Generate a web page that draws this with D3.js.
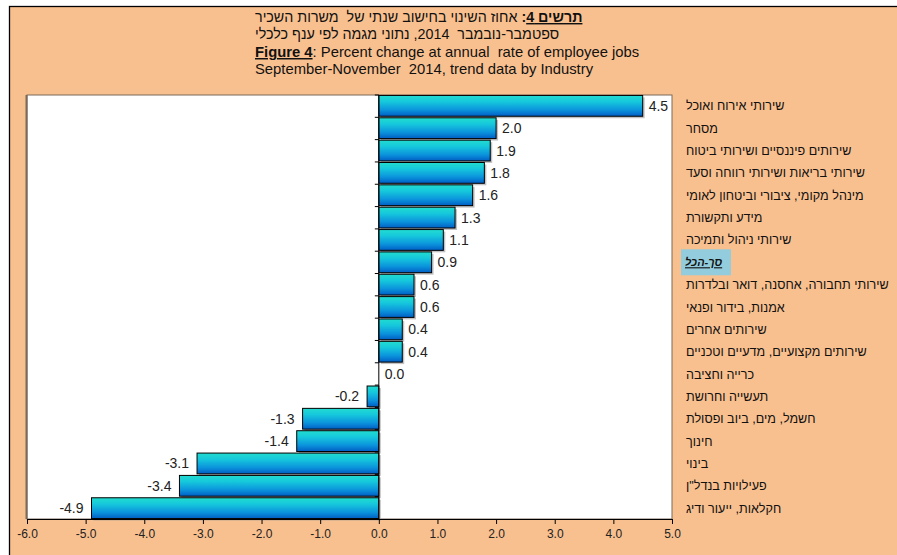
<!DOCTYPE html>
<html><head><meta charset="utf-8">
<script src="https://cdn.jsdelivr.net/npm/d3@7"></script>
<style>
html,body{margin:0;padding:0;background:#fff;}
svg{display:block;font-family:"Liberation Sans",Arial,sans-serif;}
text{white-space:pre;}
</style></head>
<body>
<svg id="chart" width="897" height="555"></svg>
<script>
const categories = [
  "שירותי אירוח ואוכל",
  "מסחר",
  "שירותים פיננסיים ושירותי ביטוח",
  "שירותי בריאות ושירותי רווחה וסעד",
  "מינהל מקומי, ציבורי וביטחון לאומי",
  "מידע ותקשורת",
  "שירותי ניהול ותמיכה",
  "סך-הכל",
  "שירותי תחבורה, אחסנה, דואר ובלדרות",
  "אמנות, בידור ופנאי",
  "שירותים אחרים",
  "שירותים מקצועיים, מדעיים וטכניים",
  "כרייה וחציבה",
  "תעשייה וחרושת",
  "חשמל, מים, ביוב ופסולת",
  "חינוך",
  "בינוי",
  "פעילויות בנדל\"ן",
  "חקלאות, ייעור ודיג"
];
const values = [4.5, 2.0, 1.9, 1.8, 1.6, 1.3, 1.1, 0.9, 0.6, 0.6, 0.4, 0.4, 0.0, -0.2, -1.3, -1.4, -3.1, -3.4, -4.9];
const xTicks = [-6, -5, -4, -3, -2, -1, 0, 1, 2, 3, 4, 5];
const totalLabel = "סך-הכל";
const titleHe1Bold = "תרשים 4";
const titleHe1Rest = " אחוז השינוי בחישוב שנתי של  משרות השכיר";
const titleHe2 = "ספטמבר-נובמבר  2014, נתוני מגמה לפי ענף כלכלי";
const titleEn1Bold = "Figure 4";
const titleEn1Rest = ": Percent change at annual  rate of employee jobs";
const titleEn2 = "September-November  2014, trend data by Industry";

(function(){
const svg = d3.select("#chart");
const W = 897, H = 555;
const fmt = v => v.toFixed(1);

svg.append("rect").attr("x",0).attr("y",0).attr("width",W).attr("height",H).attr("fill","#fff");
svg.append("rect").attr("x",9.5).attr("y",6.5).attr("width",W).attr("height",H).attr("fill","#F9C08F").attr("stroke","#000").attr("stroke-width",1.3);

const tx = 255;
const t1 = svg.append("text").attr("x",tx).attr("y",22).attr("font-size",14.3).attr("fill","#111");
t1.append("tspan").attr("font-weight","bold").attr("text-decoration","underline").text(titleHe1Bold);
t1.append("tspan").attr("font-weight","bold").text(":");
t1.append("tspan").text(titleHe1Rest);
svg.append("text").attr("x",tx).attr("y",39).attr("font-size",14.3).attr("fill","#111").text(titleHe2);
const t3 = svg.append("text").attr("x",tx).attr("y",57).attr("font-size",14.8).attr("fill","#111");
t3.append("tspan").attr("font-weight","bold").attr("text-decoration","underline").text(titleEn1Bold);
t3.append("tspan").text(titleEn1Rest);
svg.append("text").attr("x",tx).attr("y",74).attr("font-size",14.8).attr("fill","#111").text(titleEn2);

const pLeft = 27, pRight = 672, pTop = 95, pBottom = 519;
const x = d3.scaleLinear().domain([-6,5]).range([pLeft,pRight]);
const y = d3.scaleBand().domain(categories).range([pTop,pBottom]).paddingInner(0.07).paddingOuter(0.02);

svg.append("rect").attr("x",pLeft).attr("y",pTop).attr("width",pRight-pLeft).attr("height",pBottom-pTop)
  .attr("fill","#fff").attr("stroke","#7a6a5a").attr("stroke-width",1);
svg.append("line").attr("x1",pLeft-0.5).attr("x2",pLeft-0.5).attr("y1",pTop).attr("y2",pBottom).attr("stroke","#7a6a5a").attr("stroke-width",2);

const defs = svg.append("defs");
const g = defs.append("linearGradient").attr("id","barGrad").attr("x1",0).attr("y1",0).attr("x2",0).attr("y2",1);
g.append("stop").attr("offset","0%").attr("stop-color","#22dccf");
g.append("stop").attr("offset","30%").attr("stop-color","#16c8dc");
g.append("stop").attr("offset","70%").attr("stop-color","#0b93dc");
g.append("stop").attr("offset","100%").attr("stop-color","#005ec4");

const data = categories.map((c,i)=>({c, v: values[i]}));

svg.append("g").selectAll("rect").data(data).join("rect")
  .attr("x", d => Math.min(x(0), x(d.v)) + 2)
  .attr("y", d => y(d.c) + 2)
  .attr("width", d => Math.abs(x(d.v) - x(0)))
  .attr("height", y.bandwidth())
  .attr("fill", "#9a9a9a").attr("opacity", 0.6);

svg.append("g").selectAll("rect").data(data).join("rect")
  .attr("x", d => Math.min(x(0), x(d.v)))
  .attr("y", d => y(d.c))
  .attr("width", d => Math.abs(x(d.v) - x(0)))
  .attr("height", y.bandwidth())
  .attr("fill", "url(#barGrad)")
  .attr("stroke", "#000").attr("stroke-width", 1);

svg.append("line").attr("x1",x(0)).attr("x2",x(0)).attr("y1",pTop).attr("y2",pBottom).attr("stroke","#000").attr("stroke-width",1);
const bounds = d3.range(categories.length + 1).map(i => pTop + (pBottom - pTop) * i / categories.length);
svg.append("g").selectAll("line").data(bounds).join("line")
  .attr("x1", x(0) - 4).attr("x2", x(0)).attr("y1", d => d).attr("y2", d => d)
  .attr("stroke","#000");

svg.append("g").selectAll("text").data(data).join("text")
  .attr("x", d => d.v < 0 ? x(d.v) - 8 : x(d.v) + 6)
  .attr("y", d => y(d.c) + y.bandwidth()/2)
  .attr("dy","0.36em")
  .attr("text-anchor", d => d.v < 0 ? "end" : "start")
  .attr("font-size", 14).attr("fill","#222")
  .text(d => fmt(d.v));

const xAxis = d3.axisBottom(x).tickValues(xTicks).tickFormat(fmt).tickSize(5).tickSizeOuter(0);
const ax = svg.append("g").attr("transform",`translate(0,${pBottom})`).call(xAxis);
ax.select(".domain").attr("stroke","#000");
ax.selectAll(".tick line").attr("stroke","#000");
ax.selectAll(".tick text").attr("font-size",12).attr("fill","#222").attr("font-family","'Liberation Sans',Arial,sans-serif").attr("dy","0.9em");

const labG = svg.append("g");
data.forEach(d => {
  const cy = y(d.c) + y.bandwidth()/2;
  if (d.c === totalLabel) {
    labG.append("rect").attr("x",681).attr("y",cy-13).attr("width",50).attr("height",26).attr("fill","#93CDDD");
    labG.append("text").attr("x",685).attr("y",cy).attr("dy","0.36em")
      .attr("font-size",11).attr("font-weight","bold").attr("font-style","italic")
      .attr("text-decoration","underline").attr("fill","#111").text(d.c);
  } else {
    const t = labG.append("text").attr("x",686).attr("y",cy).attr("dy","0.36em")
      .attr("font-size",12.6).attr("fill","#111").text(d.c);
    const w = t.node().getComputedTextLength();
    if (686 + w > 894) t.attr("x", 894 - w);
  }
});
})();
</script>
</body></html>
